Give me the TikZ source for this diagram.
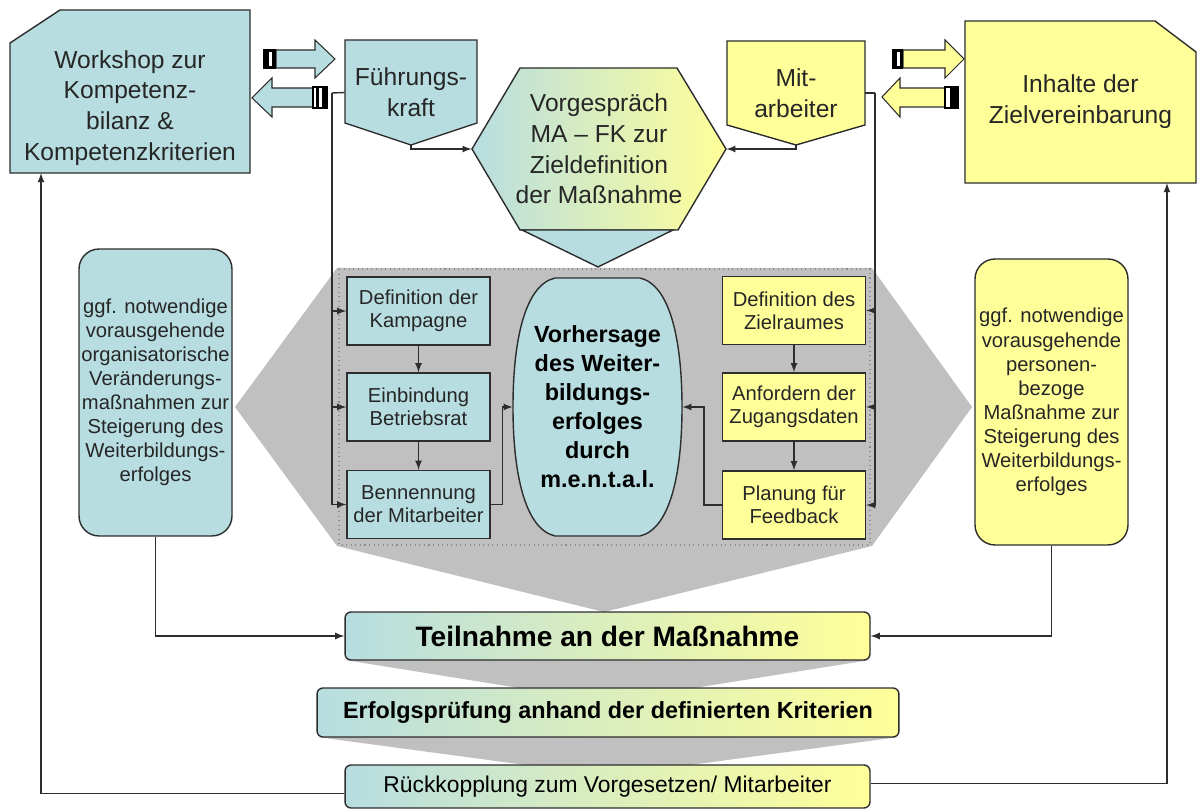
\documentclass[tikz,border=0pt]{standalone}
\usepackage{fontspec}
\setmainfont{Liberation Sans}
\usetikzlibrary{arrows}

\definecolor{cblue}{RGB}{183,221,224}
\definecolor{cyellow}{RGB}{255,255,153}
\definecolor{cgrey}{RGB}{192,192,192}
\definecolor{cline}{RGB}{45,45,45}

\tikzset{
  box/.style={draw=cline, line width=0.8pt},
  bluebox/.style={box, fill=cblue},
  yellowbox/.style={box, fill=cyellow},
  blockarr/.style={draw=cline, line width=0.6pt},
  conn/.style={draw=cline, line width=0.8pt, -latex},
  bigtxt/.style={font=\fontsize{14}{17.5}\selectfont, align=center, text=black!85, inner sep=0pt},
  smalltxt/.style={font=\fontsize{11.5}{13}\selectfont, align=center, text=black!85, minimum width=2.86cm, minimum height=1.36cm, inner sep=0pt},
  sidetxt/.style={font=\fontsize{11.5}{13.7}\selectfont, align=center, text=black!85, rounded corners=0.4cm, minimum width=3.06cm, minimum height=5.74cm, inner sep=0pt},
  flowbar/.style={box, rounded corners=0.12cm, left color=cblue, right color=cyellow, inner sep=0pt, text=black},
}

\begin{document}
\begin{tikzpicture}[x=0.02cm,y=-0.02cm]
\useasboundingbox (0,0) rectangle (1198,810);
\fill[white] (0,0) rectangle (1198,810);

% grey background of the middle part
\fill[cgrey] (235,407) -- (337,268) -- (872,268) -- (972,407) -- (872,546) -- (337,546) -- cycle;
\fill[cgrey] (337,546) -- (872,546) -- (604,612) -- cycle;
\draw[cline!55, dotted, line width=0.6pt] (339,269) rectangle (870,545);
\fill[cgrey] (345,660) -- (870,660) -- (606,702) -- cycle;
\fill[cgrey] (317,737) -- (899,737) -- (608,776) -- cycle;

% top row
\draw[bluebox] (10,43) -- (60,10) -- (250,10) -- (250,173) -- (10,173) -- cycle;
\node[bigtxt] (ws) at (130,108) {Workshop zur\\Kompetenz-\\bilanz \&\\Kompetenzkriterien};

\draw[bluebox] (345,40) -- (477,40) -- (477,123) -- (411,145) -- (345,123) -- cycle;
\node[bigtxt, minimum width=2.64cm, minimum height=2.1cm] (fk) at (411,92.5) {Führungs-\\kraft};

\draw[box, left color=cblue, right color=cyellow] (472,149) -- (520,68) -- (677,68) -- (726,149) -- (678,230) -- (520,230) -- cycle;
\draw[bluebox] (522,230) -- (598,267) -- (673,230) -- cycle;
\node[bigtxt, minimum width=5.08cm, minimum height=3.24cm] (vorg) at (599,149) {Vorgespräch\\MA – FK zur\\Zieldefinition\\der Maßnahme};

\draw[yellowbox] (727,41) -- (865,41) -- (865,125) -- (796,145) -- (727,125) -- cycle;
\node[bigtxt, minimum width=2.76cm, minimum height=2.08cm] (ma) at (796,93) {Mit-\\arbeiter};

\draw[yellowbox] (965,21) -- (1155,21) -- (1196,52) -- (1196,183) -- (965,183) -- cycle;
\node[bigtxt, minimum width=4.62cm, minimum height=3.24cm] (inh) at (1080.5,102) {Inhalte der\\Zielvereinbarung};

% block arrows
\draw[blockarr, fill=cblue] (276,50) -- (315,50) -- (315,40) -- (335,59) -- (315,78) -- (315,68) -- (276,68) -- cycle;
\fill[black] (263,49) rectangle (276,69);
\fill[white] (269,52) rectangle (272,66);
\draw[blockarr, fill=cblue] (313,88) -- (272,88) -- (272,78) -- (252,98) -- (272,117) -- (272,107) -- (313,107) -- cycle;
\draw[black, fill=white, line width=0.6pt] (313,87) rectangle (327,108);
\fill[black] (316,87) rectangle (319,108);
\fill[black] (322,87) rectangle (326,108);

\draw[blockarr, fill=cyellow] (903,50) -- (945,50) -- (945,40) -- (964,59) -- (945,78) -- (945,68) -- (903,68) -- cycle;
\fill[black] (892,49) rectangle (903,69);
\fill[white] (897,52) rectangle (900,66);
\draw[blockarr, fill=cyellow] (945,88) -- (900,88) -- (900,78) -- (882,97) -- (900,117) -- (900,107) -- (945,107) -- cycle;
\draw[black, fill=white, line width=0.6pt] (945,87) rectangle (958,108);
\fill[black] (950,87) rectangle (958,108);

% middle part
\node[bluebox, smalltxt] (kamp) at (418.5,311) {Definition der\\Kampagne};
\node[bluebox, smalltxt] (einb) at (418.5,407) {Einbindung\\Betriebsrat};
\node[bluebox, smalltxt] (benn) at (418.5,504.5) {Bennennung\\der Mitarbeiter};
\node[yellowbox, smalltxt] (ziel) at (794,310.5) {Definition des\\Zielraumes};
\node[yellowbox, smalltxt] (anf) at (794,407) {Anfordern der\\Zugangsdaten};
\node[yellowbox, smalltxt] (plan) at (794,505) {Planung für\\Feedback};

\draw[bluebox] (555,278) .. controls (525,285) and (513,340) .. (513,407) .. controls (513,474) and (525,529) .. (555,536) -- (640,536) .. controls (670,529) and (682,474) .. (682,407) .. controls (682,340) and (670,285) .. (640,278) -- cycle;
\node[font=\bfseries\fontsize{13.3}{16.5}\selectfont, align=center, minimum width=3.38cm, minimum height=5.16cm] (oval) at (597.5,407) {Vorhersage\\des Weiter-\\bildungs-\\erfolges\\durch\\m.e.n.t.a.l.};

\node[bluebox, sidetxt] (lbox) at (155.5,392.5) {ggf. notwendige\\vorausgehende\\organisatorische\\Veränderungs-\\maßnahmen zur\\Steigerung des\\Weiterbildungs-\\erfolges};
\node[yellowbox, sidetxt, minimum height=5.72cm] (rbox) at (1051.5,402) {ggf. notwendige\\vorausgehende\\personen-\\bezoge\\Maßnahme zur\\Steigerung des\\Weiterbildungs-\\erfolges};

% bottom bars
\node[flowbar, minimum width=10.5cm, minimum height=0.96cm, font=\bfseries\fontsize{16}{19}\selectfont] (teil) at (607.5,636) {Teilnahme an der Maßnahme};
\node[flowbar, minimum width=11.64cm, minimum height=0.98cm, font=\bfseries\fontsize{13.3}{16}\selectfont] (erf) at (608,712.5) {Erfolgsprüfung anhand der definierten Kriterien};
\node[flowbar, minimum width=10.5cm, minimum height=0.86cm, font=\fontsize{13}{15}\selectfont] (rueck) at (607.5,786.5) {Rückkopplung zum Vorgesetzen/ Mitarbeiter};

% connectors
\coordinate (lbus) at (332,93);
\coordinate (rbus) at (875,93);
\coordinate (wsin) at (41,173);
\coordinate (inhin) at (1167,183);
\draw[conn, -] (fk.west) -- (lbus);
\draw[conn] (lbus) |- (kamp.west);
\draw[conn] (lbus) |- (einb.west);
\draw[conn] (lbus) |- (benn.west);
\draw[conn, -] (ma.east) -- (rbus);
\draw[conn] (rbus) |- (ziel.east);
\draw[conn] (rbus) |- (anf.east);
\draw[conn] (rbus) |- (plan.east);
\draw[conn] (fk.south) |- (vorg.west);
\draw[conn] (ma.south) |- (vorg.east);
\draw[conn] (kamp) -- (einb);
\draw[conn] (einb) -- (benn);
\draw[conn] (ziel) -- (anf);
\draw[conn] (anf) -- (plan);
\draw[conn] (benn.east) -- ++(12,0) |- (oval.west);
\draw[conn] (plan.west) -- ++(-18,0) |- (oval.east);
\draw[conn] (lbox.south) |- (teil.west);
\draw[conn] (rbox.south) |- (teil.east);
\draw[conn] ([yshift=-0.14cm]rueck.west) -| (wsin);
\draw[conn] ([yshift=0.06cm]rueck.east) -| (inhin);
\end{tikzpicture}
\end{document}
